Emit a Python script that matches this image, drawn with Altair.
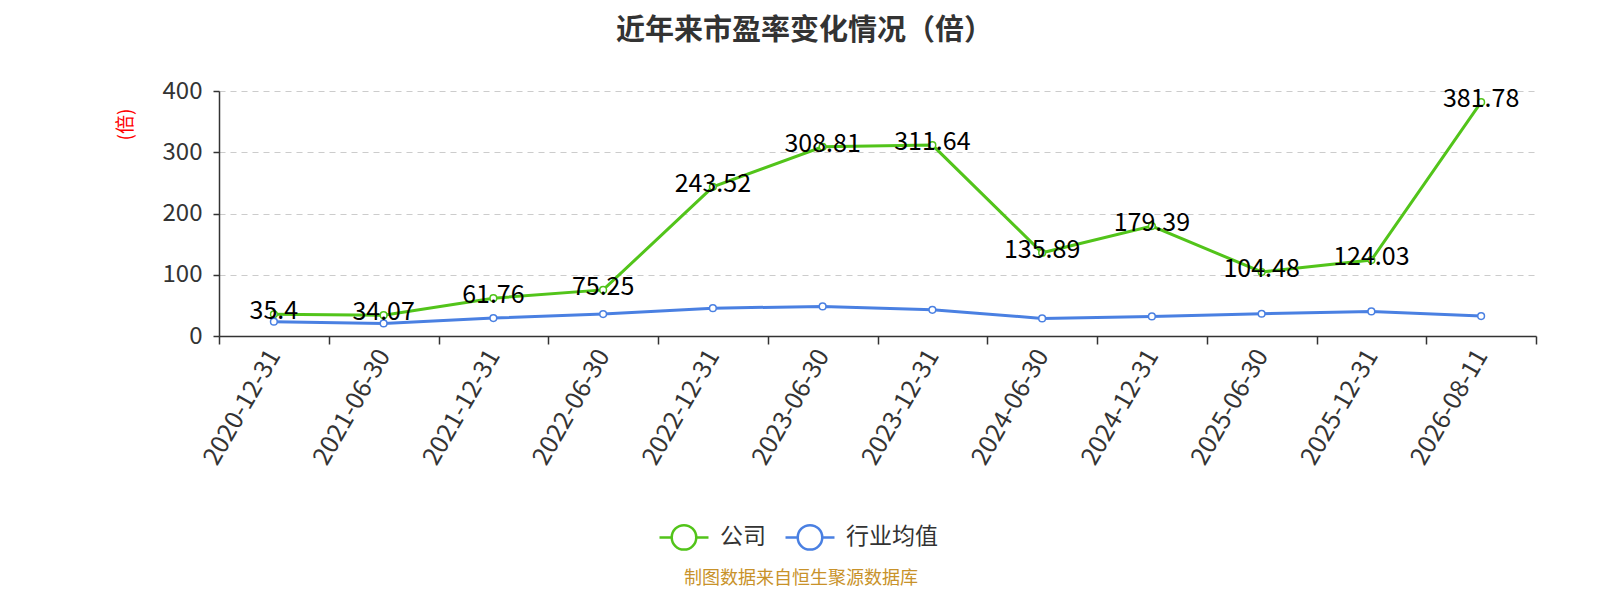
import altair as alt
import pandas as pd

dates = ["2020-12-31", "2021-06-30", "2021-12-31", "2022-06-30", "2022-12-31", "2023-06-30",
         "2023-12-31", "2024-06-30", "2024-12-31", "2025-06-30", "2025-12-31", "2026-08-11"]
company = [35.4, 34.07, 61.76, 75.25, 243.52, 308.81, 311.64, 135.89, 179.39, 104.48, 124.03, 381.78]
industry = [23.3, 20.6, 29.3, 35.8, 45.5, 48.2, 42.8, 28.7, 32.0, 36.3, 40.1, 32.5]
series = ["公司", "行业均值"]
colors = ["#52c41a", "#4a80e2"]

rows = []
for d, c, i in zip(dates, company, industry):
    rows.append({"date": d, "series": series[0], "value": c, "label": f"{c:g}"})
    rows.append({"date": d, "series": series[1], "value": i, "label": f"{i:g}"})
df = pd.DataFrame(rows)

FONT = "Noto Sans CJK SC"
legend_path = "M-1,0L-0.5,0M0.5,0L1,0M0.5,0A0.5,0.5,0,1,1,-0.5,0A0.5,0.5,0,1,1,0.5,0"

x = alt.X("date:N", sort=dates, title=None,
          scale=alt.Scale(type="band", paddingInner=0, paddingOuter=0),
          axis=alt.Axis(labelAngle=-60, labelAlign="right", labelBaseline="middle",
                        labelFontSize=25, labelColor="#333333", labelPadding=7,
                        tickBand="extent", tickSize=8, tickColor="#333333",
                        domainColor="#333333", domainWidth=1.5, tickWidth=1.5, grid=False,
                        labelFont=FONT))
y = alt.Y("value:Q", scale=alt.Scale(domain=[0, 400]),
          axis=alt.Axis(values=[0, 100, 200, 300, 400], labelFontSize=24, labelColor="#333333",
                        tickSize=6, tickColor="#333333", domainColor="#333333", domainWidth=1.5,
                        tickWidth=1.5, labelPadding=11,
                        gridDash=[6, 5], gridColor="#cccccc", gridWidth=1.2,
                        title="(倍)", titleColor="#ff0000", titleFontSize=19,
                        titleFontWeight="normal", titleX=-94, titleY=33, titleAngle=-90,
                        titleAlign="center", titleBaseline="middle", labelFont=FONT,
                        titleFont=FONT))
color = alt.Color("series:N", scale=alt.Scale(domain=series, range=colors),
                  legend=alt.Legend(title=None, orient="none", legendX=439, legendY=420,
                                    direction="horizontal", symbolType=legend_path,
                                    symbolSize=2400, symbolStrokeWidth=2.5,
                                    symbolFillColor="white", labelFontSize=23,
                                    labelColor="#333333", labelFont=FONT, labelOffset=10,
                                    columnPadding=14))

base = alt.Chart(df).encode(x=x, y=y, color=color)
lines = base.mark_line(strokeWidth=3)
points = base.mark_point(filled=False, fill="white", size=45, strokeWidth=1.5, opacity=1,
                         fillOpacity=1)
labels = alt.Chart(df).transform_filter(alt.datum.series == series[0]).mark_text(
    fontSize=25, color="#000000", dy=-3, font=FONT).encode(
    x=alt.X("date:N", sort=dates), y="value:Q", text="label:N")
footer = alt.Chart(pd.DataFrame({"t": ["制图数据来自恒生聚源数据库"]})).mark_text(
    fontSize=18, color="#c8922a", font=FONT).encode(
    x=alt.value(582), y=alt.value(488), text="t:N")

chart = alt.layer(lines, points, labels, footer).properties(
    width=1317, height=245,
    title=alt.TitleParams("近年来市盈率变化情况（倍）", fontSize=29, font=FONT,
                          fontWeight="bold", color="#333333", offset=33, anchor="middle",
                          dx=-73),
    autosize=alt.AutoSizeParams(type="none"),
    padding={"left": 211, "top": 83, "right": 56, "bottom": 256},
).configure_view(stroke=None)

chart.save("out.html", embed_options={"renderer": "svg", "actions": False})
